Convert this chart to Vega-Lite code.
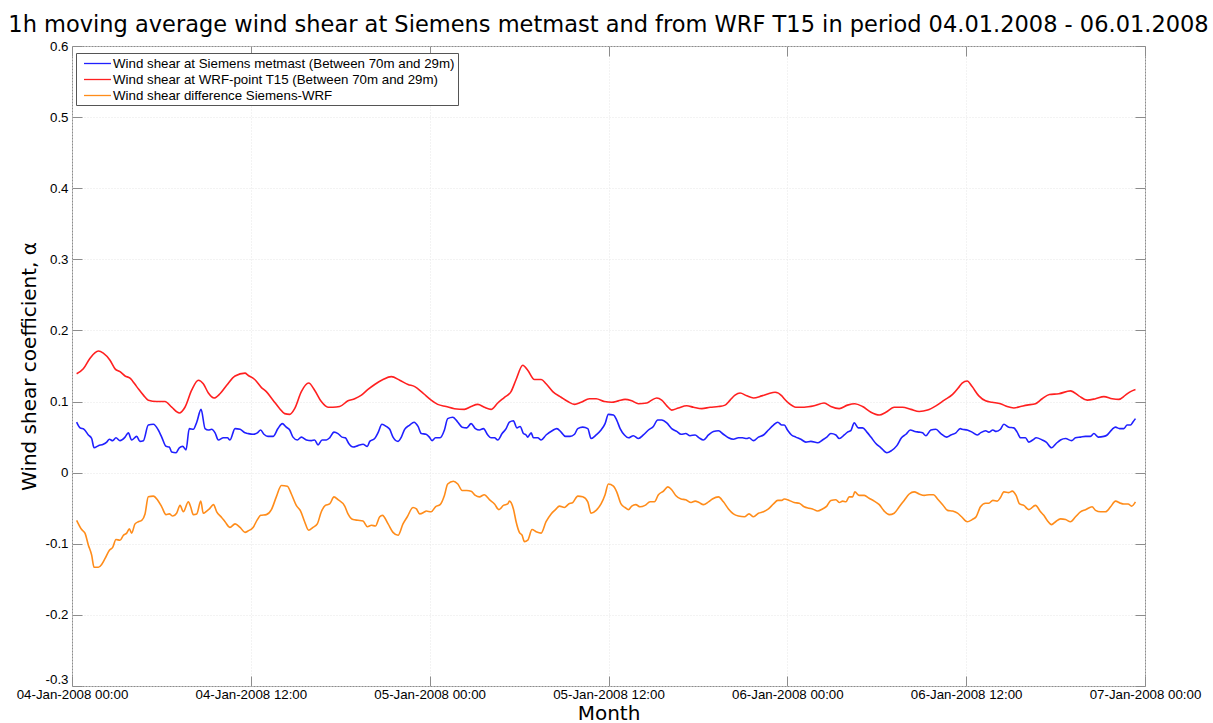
{
  "$schema": "https://vega.github.io/schema/vega-lite/v6.json",
  "width": 1073,
  "height": 640,
  "autosize": {"type": "none"},
  "padding": {"left": 72, "top": 46, "right": 68, "bottom": 37},
  "background": "white",
  "title": {
    "text": "1h moving average wind shear at Siemens metmast and from WRF T15 in period 04.01.2008 - 06.01.2008",
    "font": "DejaVu Sans",
    "fontSize": 22.5,
    "fontWeight": "normal",
    "color": "#000000",
    "anchor": "middle",
    "frame": "group",
    "baseline": "alphabetic",
    "offset": 13,
    "dy": 28
  },
  "config": {
    "view": {"stroke": "#8c8c8c", "strokeWidth": 1},
    "axis": {
      "domain": false,
      "grid": true,
      "gridColor": "#e6e6e6",
      "gridDash": [1, 2],
      "gridWidth": 1,
      "ticks": true,
      "tickSize": -10,
      "tickColor": "#8c8c8c",
      "tickWidth": 1,
      "labelFont": "Liberation Sans",
      "labelFontSize": 13.3,
      "labelColor": "#000000",
      "labelOverlap": false,
      "labelFlush": false,
      "titleFont": "DejaVu Sans",
      "titleFontSize": 20,
      "titleFontWeight": "normal",
      "titleColor": "#000000"
    }
  },
  "datasets": {
    "siemens": [
      {"hour":0.31,"alpha":0.071},{"hour":0.54,"alpha":0.063},{"hour":0.81,"alpha":0.061},{"hour":1.10,"alpha":0.053},{"hour":1.32,"alpha":0.048},{"hour":1.48,"alpha":0.035},{"hour":1.77,"alpha":0.038},{"hour":2.10,"alpha":0.040},{"hour":2.33,"alpha":0.043},{"hour":2.51,"alpha":0.047},{"hour":2.73,"alpha":0.045},{"hour":2.95,"alpha":0.049},{"hour":3.22,"alpha":0.045},{"hour":3.56,"alpha":0.050},{"hour":3.78,"alpha":0.056},{"hour":4.00,"alpha":0.046},{"hour":4.34,"alpha":0.051},{"hour":4.56,"alpha":0.044},{"hour":4.79,"alpha":0.045},{"hour":5.12,"alpha":0.067},{"hour":5.46,"alpha":0.068},{"hour":5.79,"alpha":0.060},{"hour":6.02,"alpha":0.050},{"hour":6.31,"alpha":0.037},{"hour":6.53,"alpha":0.036},{"hour":6.69,"alpha":0.029},{"hour":6.98,"alpha":0.028},{"hour":7.20,"alpha":0.035},{"hour":7.43,"alpha":0.037},{"hour":7.65,"alpha":0.032},{"hour":7.87,"alpha":0.062},{"hour":8.14,"alpha":0.061},{"hour":8.37,"alpha":0.071},{"hour":8.66,"alpha":0.089},{"hour":8.93,"alpha":0.062},{"hour":9.15,"alpha":0.060},{"hour":9.37,"alpha":0.061},{"hour":9.60,"alpha":0.056},{"hour":9.82,"alpha":0.046},{"hour":10.16,"alpha":0.049},{"hour":10.43,"alpha":0.049},{"hour":10.60,"alpha":0.046},{"hour":10.94,"alpha":0.062},{"hour":11.28,"alpha":0.061},{"hour":11.61,"alpha":0.056},
      {"hour":11.81,"alpha":0.055},{"hour":12.15,"alpha":0.054},{"hour":12.44,"alpha":0.056},{"hour":12.66,"alpha":0.060},{"hour":12.88,"alpha":0.054},{"hour":13.15,"alpha":0.051},{"hour":13.49,"alpha":0.051},{"hour":13.82,"alpha":0.062},{"hour":14.11,"alpha":0.069},{"hour":14.38,"alpha":0.064},{"hour":14.61,"alpha":0.060},{"hour":14.83,"alpha":0.050},{"hour":15.12,"alpha":0.046},{"hour":15.39,"alpha":0.050},{"hour":15.73,"alpha":0.046},{"hour":16.06,"alpha":0.045},{"hour":16.28,"alpha":0.046},{"hour":16.51,"alpha":0.039},{"hour":16.78,"alpha":0.046},{"hour":17.07,"alpha":0.046},{"hour":17.29,"alpha":0.049},{"hour":17.58,"alpha":0.057},{"hour":17.85,"alpha":0.055},{"hour":18.12,"alpha":0.050},{"hour":18.34,"alpha":0.049},{"hour":18.57,"alpha":0.041},{"hour":18.86,"alpha":0.036},{"hour":19.19,"alpha":0.038},{"hour":19.53,"alpha":0.040},{"hour":19.82,"alpha":0.037},{"hour":19.98,"alpha":0.044},{"hour":20.31,"alpha":0.048},{"hour":20.53,"alpha":0.056},{"hour":20.80,"alpha":0.068},{"hour":21.09,"alpha":0.065},{"hour":21.32,"alpha":0.061},{"hour":21.54,"alpha":0.050},{"hour":21.88,"alpha":0.044},{"hour":22.10,"alpha":0.050},{"hour":22.32,"alpha":0.061},{"hour":22.66,"alpha":0.067},{"hour":22.95,"alpha":0.071},{"hour":23.22,"alpha":0.065},{"hour":23.44,"alpha":0.055},
      {"hour":23.76,"alpha":0.054},{"hour":23.98,"alpha":0.050},{"hour":24.16,"alpha":0.045},{"hour":24.39,"alpha":0.049},{"hour":24.70,"alpha":0.049},{"hour":24.99,"alpha":0.060},{"hour":25.21,"alpha":0.076},{"hour":25.55,"alpha":0.078},{"hour":25.89,"alpha":0.071},{"hour":26.18,"alpha":0.064},{"hour":26.49,"alpha":0.063},{"hour":26.78,"alpha":0.069},{"hour":27.07,"alpha":0.062},{"hour":27.34,"alpha":0.060},{"hour":27.61,"alpha":0.062},{"hour":27.90,"alpha":0.053},{"hour":28.12,"alpha":0.049},{"hour":28.35,"alpha":0.049},{"hour":28.57,"alpha":0.046},{"hour":28.86,"alpha":0.055},{"hour":29.13,"alpha":0.062},{"hour":29.35,"alpha":0.071},{"hour":29.62,"alpha":0.073},{"hour":29.85,"alpha":0.063},{"hour":30.07,"alpha":0.065},{"hour":30.29,"alpha":0.055},{"hour":30.47,"alpha":0.053},{"hour":30.58,"alpha":0.050},{"hour":30.81,"alpha":0.056},{"hour":30.96,"alpha":0.049},{"hour":31.25,"alpha":0.049},{"hour":31.48,"alpha":0.046},{"hour":31.81,"alpha":0.053},{"hour":32.22,"alpha":0.059},{"hour":32.53,"alpha":0.062},{"hour":32.82,"alpha":0.057},{"hour":33.11,"alpha":0.051},{"hour":33.42,"alpha":0.051},{"hour":33.72,"alpha":0.054},{"hour":33.94,"alpha":0.062},{"hour":34.27,"alpha":0.064},{"hour":34.61,"alpha":0.062},{"hour":34.83,"alpha":0.048},{"hour":35.17,"alpha":0.053},{"hour":35.50,"alpha":0.060},
      {"hour":35.77,"alpha":0.069},{"hour":35.99,"alpha":0.082},{"hour":36.33,"alpha":0.081},{"hour":36.55,"alpha":0.074},{"hour":36.78,"alpha":0.062},{"hour":37.07,"alpha":0.053},{"hour":37.34,"alpha":0.049},{"hour":37.67,"alpha":0.052},{"hour":38.01,"alpha":0.048},{"hour":38.34,"alpha":0.053},{"hour":38.68,"alpha":0.060},{"hour":39.01,"alpha":0.065},{"hour":39.30,"alpha":0.074},{"hour":39.57,"alpha":0.074},{"hour":39.91,"alpha":0.070},{"hour":40.24,"alpha":0.062},{"hour":40.58,"alpha":0.058},{"hour":40.87,"alpha":0.054},{"hour":41.18,"alpha":0.055},{"hour":41.47,"alpha":0.052},{"hour":41.81,"alpha":0.053},{"hour":42.08,"alpha":0.049},{"hour":42.37,"alpha":0.046},{"hour":42.71,"alpha":0.053},{"hour":43.04,"alpha":0.058},{"hour":43.38,"alpha":0.059},{"hour":43.71,"alpha":0.054},{"hour":44.05,"alpha":0.049},{"hour":44.38,"alpha":0.047},{"hour":44.72,"alpha":0.049},{"hour":44.99,"alpha":0.049},{"hour":45.28,"alpha":0.048},{"hour":45.43,"alpha":0.049},{"hour":45.73,"alpha":0.045},{"hour":46.06,"alpha":0.050},{"hour":46.40,"alpha":0.053},{"hour":46.73,"alpha":0.060},{"hour":47.07,"alpha":0.067},{"hour":47.36,"alpha":0.071},{"hour":47.63,"alpha":0.067},
      {"hour":47.79,"alpha":0.067},{"hour":48.01,"alpha":0.060},{"hour":48.28,"alpha":0.053},{"hour":48.57,"alpha":0.050},{"hour":48.91,"alpha":0.047},{"hour":49.24,"alpha":0.043},{"hour":49.58,"alpha":0.044},{"hour":50.03,"alpha":0.042},{"hour":50.36,"alpha":0.046},{"hour":50.65,"alpha":0.050},{"hour":50.92,"alpha":0.055},{"hour":51.26,"alpha":0.053},{"hour":51.48,"alpha":0.048},{"hour":51.82,"alpha":0.053},{"hour":52.04,"alpha":0.057},{"hour":52.26,"alpha":0.059},{"hour":52.49,"alpha":0.070},{"hour":52.76,"alpha":0.063},{"hour":53.05,"alpha":0.063},{"hour":53.34,"alpha":0.057},{"hour":53.61,"alpha":0.050},{"hour":53.94,"alpha":0.041},{"hour":54.28,"alpha":0.035},{"hour":54.68,"alpha":0.028},{"hour":54.99,"alpha":0.031},{"hour":55.35,"alpha":0.038},{"hour":55.66,"alpha":0.049},{"hour":55.96,"alpha":0.054},{"hour":56.25,"alpha":0.060},{"hour":56.56,"alpha":0.058},{"hour":56.85,"alpha":0.057},{"hour":57.07,"alpha":0.056},{"hour":57.30,"alpha":0.052},{"hour":57.63,"alpha":0.060},{"hour":57.97,"alpha":0.061},{"hour":58.30,"alpha":0.055},{"hour":58.69,"alpha":0.050},{"hour":58.98,"alpha":0.053},{"hour":59.31,"alpha":0.056},{"hour":59.60,"alpha":0.062},
      {"hour":59.73,"alpha":0.061},{"hour":60.07,"alpha":0.060},{"hour":60.40,"alpha":0.057},{"hour":60.74,"alpha":0.053},{"hour":60.96,"alpha":0.056},{"hour":61.30,"alpha":0.059},{"hour":61.52,"alpha":0.057},{"hour":61.79,"alpha":0.060},{"hour":62.01,"alpha":0.058},{"hour":62.30,"alpha":0.061},{"hour":62.53,"alpha":0.068},{"hour":62.86,"alpha":0.064},{"hour":63.20,"alpha":0.063},{"hour":63.42,"alpha":0.057},{"hour":63.65,"alpha":0.049},{"hour":63.98,"alpha":0.049},{"hour":64.20,"alpha":0.043},{"hour":64.47,"alpha":0.046},{"hour":64.70,"alpha":0.049},{"hour":65.10,"alpha":0.046},{"hour":65.37,"alpha":0.043},{"hour":65.73,"alpha":0.035},{"hour":66.04,"alpha":0.041},{"hour":66.33,"alpha":0.046},{"hour":66.67,"alpha":0.048},{"hour":67.07,"alpha":0.045},{"hour":67.34,"alpha":0.049},{"hour":67.67,"alpha":0.050},{"hour":68.01,"alpha":0.051},{"hour":68.34,"alpha":0.051},{"hour":68.57,"alpha":0.055},{"hour":68.86,"alpha":0.050},{"hour":69.24,"alpha":0.051},{"hour":69.46,"alpha":0.053},{"hour":69.80,"alpha":0.061},{"hour":70.02,"alpha":0.064},{"hour":70.29,"alpha":0.062},{"hour":70.58,"alpha":0.062},{"hour":70.80,"alpha":0.067},{"hour":71.03,"alpha":0.067},{"hour":71.18,"alpha":0.071},{"hour":71.36,"alpha":0.076}
    ],
    "wrf": [
      {"hour":0.31,"alpha":0.139},{"hour":0.76,"alpha":0.146},{"hour":1.21,"alpha":0.161},{"hour":1.77,"alpha":0.171},{"hour":2.10,"alpha":0.168},{"hour":2.55,"alpha":0.158},{"hour":2.89,"alpha":0.146},{"hour":3.22,"alpha":0.142},{"hour":3.56,"alpha":0.136},{"hour":3.89,"alpha":0.133},{"hour":4.34,"alpha":0.121},{"hour":4.79,"alpha":0.109},{"hour":5.12,"alpha":0.102},{"hour":5.68,"alpha":0.100},{"hour":6.24,"alpha":0.100},{"hour":6.69,"alpha":0.092},{"hour":7.20,"alpha":0.084},{"hour":7.58,"alpha":0.092},{"hour":8.03,"alpha":0.116},{"hour":8.48,"alpha":0.130},{"hour":8.81,"alpha":0.125},{"hour":9.15,"alpha":0.112},{"hour":9.53,"alpha":0.105},{"hour":9.93,"alpha":0.111},{"hour":10.38,"alpha":0.123},{"hour":10.94,"alpha":0.136},{"hour":11.61,"alpha":0.140},
      {"hour":11.81,"alpha":0.137},{"hour":12.26,"alpha":0.131},{"hour":12.70,"alpha":0.120},{"hour":13.04,"alpha":0.114},{"hour":13.49,"alpha":0.102},{"hour":13.94,"alpha":0.090},{"hour":14.27,"alpha":0.083},{"hour":14.61,"alpha":0.082},{"hour":14.94,"alpha":0.090},{"hour":15.39,"alpha":0.114},{"hour":15.88,"alpha":0.126},{"hour":16.28,"alpha":0.116},{"hour":16.73,"alpha":0.100},{"hour":17.18,"alpha":0.092},{"hour":17.51,"alpha":0.092},{"hour":17.96,"alpha":0.093},{"hour":18.52,"alpha":0.101},{"hour":18.97,"alpha":0.104},{"hour":19.42,"alpha":0.109},{"hour":19.86,"alpha":0.117},{"hour":20.31,"alpha":0.124},{"hour":20.87,"alpha":0.131},{"hour":21.43,"alpha":0.135},{"hour":21.99,"alpha":0.130},{"hour":22.55,"alpha":0.124},{"hour":23.00,"alpha":0.121},{"hour":23.44,"alpha":0.114},
      {"hour":23.76,"alpha":0.108},{"hour":24.10,"alpha":0.102},{"hour":24.54,"alpha":0.096},{"hour":25.10,"alpha":0.093},{"hour":25.66,"alpha":0.090},{"hour":26.33,"alpha":0.089},{"hour":26.78,"alpha":0.093},{"hour":27.23,"alpha":0.096},{"hour":27.67,"alpha":0.092},{"hour":28.12,"alpha":0.089},{"hour":28.57,"alpha":0.098},{"hour":29.02,"alpha":0.106},{"hour":29.46,"alpha":0.114},{"hour":29.80,"alpha":0.131},{"hour":30.25,"alpha":0.151},{"hour":30.58,"alpha":0.144},{"hour":31.03,"alpha":0.131},{"hour":31.48,"alpha":0.131},{"hour":31.81,"alpha":0.125},{"hour":32.26,"alpha":0.114},{"hour":32.82,"alpha":0.106},{"hour":33.27,"alpha":0.100},{"hour":33.72,"alpha":0.096},{"hour":34.16,"alpha":0.099},{"hour":34.72,"alpha":0.104},{"hour":35.17,"alpha":0.104},{"hour":35.73,"alpha":0.100},
      {"hour":36.22,"alpha":0.099},{"hour":36.66,"alpha":0.101},{"hour":37.11,"alpha":0.103},{"hour":37.56,"alpha":0.101},{"hour":38.01,"alpha":0.097},{"hour":38.57,"alpha":0.098},{"hour":38.90,"alpha":0.102},{"hour":39.24,"alpha":0.105},{"hour":39.57,"alpha":0.102},{"hour":39.91,"alpha":0.094},{"hour":40.24,"alpha":0.088},{"hour":40.69,"alpha":0.091},{"hour":41.25,"alpha":0.094},{"hour":41.70,"alpha":0.092},{"hour":42.26,"alpha":0.090},{"hour":42.82,"alpha":0.092},{"hour":43.38,"alpha":0.093},{"hour":43.82,"alpha":0.095},{"hour":44.16,"alpha":0.102},{"hour":44.49,"alpha":0.109},{"hour":44.83,"alpha":0.112},{"hour":45.28,"alpha":0.108},{"hour":45.73,"alpha":0.105},{"hour":46.28,"alpha":0.108},{"hour":46.73,"alpha":0.111},{"hour":47.18,"alpha":0.113},{"hour":47.63,"alpha":0.108},
      {"hour":47.79,"alpha":0.104},{"hour":48.13,"alpha":0.097},{"hour":48.57,"alpha":0.092},{"hour":49.13,"alpha":0.092},{"hour":49.80,"alpha":0.094},{"hour":50.47,"alpha":0.098},{"hour":50.92,"alpha":0.093},{"hour":51.48,"alpha":0.090},{"hour":52.04,"alpha":0.095},{"hour":52.53,"alpha":0.097},{"hour":53.05,"alpha":0.093},{"hour":53.61,"alpha":0.085},{"hour":54.17,"alpha":0.081},{"hour":54.61,"alpha":0.085},{"hour":55.17,"alpha":0.092},{"hour":55.73,"alpha":0.092},{"hour":56.29,"alpha":0.089},{"hour":56.85,"alpha":0.086},{"hour":57.41,"alpha":0.088},{"hour":57.97,"alpha":0.094},{"hour":58.53,"alpha":0.102},{"hour":59.09,"alpha":0.110},{"hour":59.54,"alpha":0.121},
      {"hour":59.73,"alpha":0.126},{"hour":60.07,"alpha":0.129},{"hour":60.40,"alpha":0.121},{"hour":60.85,"alpha":0.108},{"hour":61.30,"alpha":0.101},{"hour":61.74,"alpha":0.099},{"hour":62.30,"alpha":0.097},{"hour":62.75,"alpha":0.093},{"hour":63.20,"alpha":0.091},{"hour":63.65,"alpha":0.093},{"hour":64.09,"alpha":0.095},{"hour":64.65,"alpha":0.097},{"hour":65.10,"alpha":0.104},{"hour":65.59,"alpha":0.110},{"hour":66.22,"alpha":0.111},{"hour":67.00,"alpha":0.115},{"hour":67.56,"alpha":0.108},{"hour":68.12,"alpha":0.102},{"hour":68.68,"alpha":0.104},{"hour":69.24,"alpha":0.107},{"hour":69.80,"alpha":0.104},{"hour":70.24,"alpha":0.103},{"hour":70.69,"alpha":0.109},{"hour":71.03,"alpha":0.114},{"hour":71.36,"alpha":0.117}
    ],
    "difference": [
      {"hour":0.31,"alpha":-0.067},{"hour":0.65,"alpha":-0.080},{"hour":0.87,"alpha":-0.085},{"hour":1.10,"alpha":-0.102},{"hour":1.32,"alpha":-0.116},{"hour":1.48,"alpha":-0.133},{"hour":1.77,"alpha":-0.133},{"hour":1.99,"alpha":-0.129},{"hour":2.21,"alpha":-0.121},{"hour":2.51,"alpha":-0.109},{"hour":2.73,"alpha":-0.105},{"hour":2.95,"alpha":-0.094},{"hour":3.22,"alpha":-0.095},{"hour":3.45,"alpha":-0.088},{"hour":3.67,"alpha":-0.085},{"hour":3.85,"alpha":-0.079},{"hour":4.00,"alpha":-0.085},{"hour":4.23,"alpha":-0.072},{"hour":4.45,"alpha":-0.069},{"hour":4.68,"alpha":-0.067},{"hour":4.90,"alpha":-0.058},{"hour":5.12,"alpha":-0.034},{"hour":5.46,"alpha":-0.033},{"hour":5.73,"alpha":-0.038},{"hour":6.02,"alpha":-0.048},{"hour":6.31,"alpha":-0.059},{"hour":6.53,"alpha":-0.058},{"hour":6.76,"alpha":-0.061},{"hour":7.02,"alpha":-0.057},{"hour":7.25,"alpha":-0.046},{"hour":7.47,"alpha":-0.055},{"hour":7.81,"alpha":-0.041},{"hour":7.96,"alpha":-0.048},{"hour":8.14,"alpha":-0.059},{"hour":8.37,"alpha":-0.058},{"hour":8.64,"alpha":-0.040},{"hour":8.81,"alpha":-0.057},{"hour":9.04,"alpha":-0.054},{"hour":9.22,"alpha":-0.051},{"hour":9.49,"alpha":-0.045},{"hour":9.71,"alpha":-0.055},{"hour":10.04,"alpha":-0.063},{"hour":10.27,"alpha":-0.069},{"hour":10.60,"alpha":-0.077},{"hour":10.94,"alpha":-0.072},{"hour":11.28,"alpha":-0.077},{"hour":11.61,"alpha":-0.084},
      {"hour":11.81,"alpha":-0.082},{"hour":12.15,"alpha":-0.077},{"hour":12.44,"alpha":-0.066},{"hour":12.66,"alpha":-0.060},{"hour":13.04,"alpha":-0.059},{"hour":13.38,"alpha":-0.052},{"hour":13.71,"alpha":-0.034},{"hour":14.05,"alpha":-0.018},{"hour":14.45,"alpha":-0.019},{"hour":14.72,"alpha":-0.030},{"hour":15.05,"alpha":-0.046},{"hour":15.34,"alpha":-0.054},{"hour":15.61,"alpha":-0.069},{"hour":15.88,"alpha":-0.081},{"hour":16.17,"alpha":-0.077},{"hour":16.46,"alpha":-0.072},{"hour":16.73,"alpha":-0.055},{"hour":17.00,"alpha":-0.046},{"hour":17.29,"alpha":-0.044},{"hour":17.58,"alpha":-0.034},{"hour":17.85,"alpha":-0.038},{"hour":18.30,"alpha":-0.047},{"hour":18.52,"alpha":-0.058},{"hour":18.86,"alpha":-0.066},{"hour":19.19,"alpha":-0.067},{"hour":19.53,"alpha":-0.068},{"hour":19.82,"alpha":-0.076},{"hour":20.09,"alpha":-0.074},{"hour":20.36,"alpha":-0.075},{"hour":20.65,"alpha":-0.062},{"hour":20.83,"alpha":-0.060},{"hour":21.21,"alpha":-0.072},{"hour":21.54,"alpha":-0.084},{"hour":21.88,"alpha":-0.088},{"hour":22.21,"alpha":-0.072},{"hour":22.50,"alpha":-0.062},{"hour":22.88,"alpha":-0.049},{"hour":23.11,"alpha":-0.051},{"hour":23.33,"alpha":-0.058},{"hour":23.67,"alpha":-0.055},
      {"hour":23.76,"alpha":-0.054},{"hour":24.10,"alpha":-0.055},{"hour":24.39,"alpha":-0.048},{"hour":24.70,"alpha":-0.045},{"hour":24.99,"alpha":-0.032},{"hour":25.21,"alpha":-0.016},{"hour":25.59,"alpha":-0.012},{"hour":25.89,"alpha":-0.016},{"hour":26.18,"alpha":-0.025},{"hour":26.49,"alpha":-0.025},{"hour":26.78,"alpha":-0.026},{"hour":27.07,"alpha":-0.032},{"hour":27.34,"alpha":-0.034},{"hour":27.67,"alpha":-0.031},{"hour":28.01,"alpha":-0.038},{"hour":28.35,"alpha":-0.044},{"hour":28.64,"alpha":-0.052},{"hour":28.95,"alpha":-0.046},{"hour":29.24,"alpha":-0.044},{"hour":29.35,"alpha":-0.040},{"hour":29.62,"alpha":-0.051},{"hour":29.80,"alpha":-0.069},{"hour":30.02,"alpha":-0.084},{"hour":30.20,"alpha":-0.088},{"hour":30.36,"alpha":-0.097},{"hour":30.58,"alpha":-0.095},{"hour":30.87,"alpha":-0.080},{"hour":31.14,"alpha":-0.083},{"hour":31.48,"alpha":-0.085},{"hour":31.81,"alpha":-0.069},{"hour":32.15,"alpha":-0.058},{"hour":32.44,"alpha":-0.052},{"hour":32.71,"alpha":-0.047},{"hour":33.04,"alpha":-0.049},{"hour":33.33,"alpha":-0.044},{"hour":33.60,"alpha":-0.042},{"hour":33.94,"alpha":-0.033},{"hour":34.27,"alpha":-0.034},{"hour":34.61,"alpha":-0.041},{"hour":34.83,"alpha":-0.057},{"hour":35.17,"alpha":-0.053},{"hour":35.50,"alpha":-0.044},
      {"hour":35.77,"alpha":-0.031},{"hour":35.99,"alpha":-0.016},{"hour":36.33,"alpha":-0.019},{"hour":36.55,"alpha":-0.027},{"hour":36.84,"alpha":-0.044},{"hour":37.11,"alpha":-0.049},{"hour":37.34,"alpha":-0.052},{"hour":37.56,"alpha":-0.047},{"hour":37.83,"alpha":-0.045},{"hour":38.12,"alpha":-0.048},{"hour":38.45,"alpha":-0.046},{"hour":38.79,"alpha":-0.041},{"hour":39.08,"alpha":-0.041},{"hour":39.35,"alpha":-0.031},{"hour":39.69,"alpha":-0.026},{"hour":39.98,"alpha":-0.020},{"hour":40.24,"alpha":-0.024},{"hour":40.51,"alpha":-0.032},{"hour":40.87,"alpha":-0.037},{"hour":41.18,"alpha":-0.038},{"hour":41.54,"alpha":-0.042},{"hour":41.81,"alpha":-0.040},{"hour":42.08,"alpha":-0.042},{"hour":42.37,"alpha":-0.045},{"hour":42.71,"alpha":-0.041},{"hour":42.97,"alpha":-0.037},{"hour":43.38,"alpha":-0.034},{"hour":43.71,"alpha":-0.041},{"hour":44.05,"alpha":-0.051},{"hour":44.38,"alpha":-0.058},{"hour":44.72,"alpha":-0.061},{"hour":45.12,"alpha":-0.062},{"hour":45.43,"alpha":-0.058},{"hour":45.73,"alpha":-0.062},{"hour":46.06,"alpha":-0.057},{"hour":46.40,"alpha":-0.055},{"hour":46.73,"alpha":-0.051},{"hour":47.07,"alpha":-0.044},{"hour":47.36,"alpha":-0.039},{"hour":47.63,"alpha":-0.039},
      {"hour":47.79,"alpha":-0.037},{"hour":48.13,"alpha":-0.039},{"hour":48.46,"alpha":-0.042},{"hour":48.80,"alpha":-0.043},{"hour":49.13,"alpha":-0.048},{"hour":49.47,"alpha":-0.050},{"hour":49.69,"alpha":-0.051},{"hour":50.03,"alpha":-0.054},{"hour":50.36,"alpha":-0.051},{"hour":50.65,"alpha":-0.047},{"hour":50.92,"alpha":-0.039},{"hour":51.26,"alpha":-0.038},{"hour":51.48,"alpha":-0.042},{"hour":51.71,"alpha":-0.040},{"hour":51.93,"alpha":-0.041},{"hour":52.15,"alpha":-0.034},{"hour":52.38,"alpha":-0.034},{"hour":52.53,"alpha":-0.027},{"hour":52.82,"alpha":-0.032},{"hour":53.16,"alpha":-0.032},{"hour":53.49,"alpha":-0.036},{"hour":53.83,"alpha":-0.040},{"hour":54.17,"alpha":-0.045},{"hour":54.50,"alpha":-0.054},{"hour":54.84,"alpha":-0.059},{"hour":55.17,"alpha":-0.057},{"hour":55.51,"alpha":-0.048},{"hour":55.84,"alpha":-0.039},{"hour":56.18,"alpha":-0.030},{"hour":56.51,"alpha":-0.027},{"hour":56.85,"alpha":-0.030},{"hour":57.19,"alpha":-0.032},{"hour":57.52,"alpha":-0.031},{"hour":57.81,"alpha":-0.031},{"hour":58.08,"alpha":-0.037},{"hour":58.42,"alpha":-0.045},{"hour":58.75,"alpha":-0.053},{"hour":59.09,"alpha":-0.054},{"hour":59.42,"alpha":-0.057},{"hour":59.69,"alpha":-0.062},
      {"hour":60.07,"alpha":-0.069},{"hour":60.40,"alpha":-0.066},{"hour":60.67,"alpha":-0.062},{"hour":60.96,"alpha":-0.048},{"hour":61.30,"alpha":-0.043},{"hour":61.52,"alpha":-0.043},{"hour":61.79,"alpha":-0.039},{"hour":62.08,"alpha":-0.040},{"hour":62.30,"alpha":-0.035},{"hour":62.53,"alpha":-0.027},{"hour":62.86,"alpha":-0.028},{"hour":63.09,"alpha":-0.026},{"hour":63.35,"alpha":-0.032},{"hour":63.58,"alpha":-0.044},{"hour":63.87,"alpha":-0.046},{"hour":64.20,"alpha":-0.052},{"hour":64.65,"alpha":-0.046},{"hour":64.99,"alpha":-0.055},{"hour":65.21,"alpha":-0.060},{"hour":65.43,"alpha":-0.067},{"hour":65.73,"alpha":-0.073},{"hour":66.00,"alpha":-0.069},{"hour":66.33,"alpha":-0.065},{"hour":66.67,"alpha":-0.066},{"hour":67.00,"alpha":-0.069},{"hour":67.34,"alpha":-0.062},{"hour":67.67,"alpha":-0.055},{"hour":68.01,"alpha":-0.052},{"hour":68.45,"alpha":-0.048},{"hour":68.68,"alpha":-0.053},{"hour":69.02,"alpha":-0.055},{"hour":69.35,"alpha":-0.055},{"hour":69.69,"alpha":-0.048},{"hour":70.02,"alpha":-0.040},{"hour":70.36,"alpha":-0.043},{"hour":70.58,"alpha":-0.044},{"hour":70.87,"alpha":-0.044},{"hour":71.10,"alpha":-0.047},{"hour":71.36,"alpha":-0.041}
    ]
  },
  "layer": [
    {
      "encoding": {
        "x": {
          "field": "hour",
          "type": "quantitative",
          "scale": {"domain": [0, 72], "nice": false, "zero": false},
          "axis": {
            "orient": "bottom",
            "values": [0, 12, 24, 36, 48, 60, 72],
            "labelExpr": "timeFormat(datetime(2008, 0, 4, datum.value), '%d-%b-%Y %H:%M')",
            "labelPadding": 11,
            "labelBaseline": "top",
            "title": "Month",
            "titleY": 33,
            "titleBaseline": "alphabetic"
          }
        },
        "y": {
          "field": "alpha",
          "type": "quantitative",
          "scale": {"domain": [-0.3, 0.6], "nice": false, "zero": false},
          "axis": {
            "orient": "left",
            "values": [-0.3, -0.2, -0.1, 0, 0.1, 0.2, 0.3, 0.4, 0.5, 0.6],
            "labelExpr": "datum.value == 0 ? '0' : (datum.value < 0 ? '-' : '') + format(abs(datum.value), '.1f')",
            "labelPadding": 14,
            "labelBaseline": {"condition": {"test": "datum.value < -0.29", "value": "bottom"}, "value": "middle"},
            "title": "Wind shear coefficient, α",
            "titleX": -37,
            "titleY": 320,
            "titleAngle": 270,
            "titleAlign": "center",
            "titleBaseline": "alphabetic"
          }
        }
      },
      "layer": [
        {
          "data": {"name": "siemens"},
          "mark": {"type": "line", "strokeWidth": 1.6, "interpolate": "monotone"},
          "encoding": {
            "color": {
              "datum": "Wind shear at Siemens metmast (Between 70m and 29m)",
              "type": "nominal",
              "scale": {
                "domain": ["Wind shear at Siemens metmast (Between 70m and 29m)", "Wind shear at WRF-point T15 (Between 70m and 29m)", "Wind shear difference Siemens-WRF"],
                "range": ["#2020ff", "#ff2020", "#ff8c1a"]
              },
              "legend": {
                "title": null,
                "orient": "none",
                "legendX": 4,
                "legendY": 7,
                "direction": "vertical",
                "fillColor": "white",
                "strokeColor": "#555555",
                "padding": 3,
                "symbolType": "M-2,0H2",
                "symbolSize": 182,
                "symbolStrokeWidth": 1.3,
                "symbolOffset": 11,
                "labelOffset": 8,
                "labelFont": "Liberation Sans",
                "labelFontSize": 13.3,
                "labelColor": "#000000",
                "labelLimit": 500,
                "rowPadding": 2
              }
            }
          }
        },
        {
          "data": {"name": "wrf"},
          "mark": {"type": "line", "strokeWidth": 1.6, "interpolate": "monotone"},
          "encoding": {
            "color": {"datum": "Wind shear at WRF-point T15 (Between 70m and 29m)", "type": "nominal"}
          }
        },
        {
          "data": {"name": "difference"},
          "mark": {"type": "line", "strokeWidth": 1.6, "interpolate": "monotone"},
          "encoding": {
            "color": {"datum": "Wind shear difference Siemens-WRF", "type": "nominal"}
          }
        }
      ]
    },
    {
      "data": {"name": "siemens"},
      "mark": {"type": "point", "opacity": 0},
      "encoding": {
        "x": {
          "field": "hour",
          "type": "quantitative",
          "scale": {"domain": [0, 72], "nice": false, "zero": false},
          "axis": {"orient": "top", "values": [0, 12, 24, 36, 48, 60, 72], "labels": false, "grid": false, "title": null}
        },
        "y": {
          "field": "alpha",
          "type": "quantitative",
          "scale": {"domain": [-0.3, 0.6], "nice": false, "zero": false},
          "axis": {"orient": "right", "values": [-0.3, -0.2, -0.1, 0, 0.1, 0.2, 0.3, 0.4, 0.5, 0.6], "labels": false, "grid": false, "title": null}
        }
      }
    }
  ],
  "resolve": {"axis": {"x": "independent", "y": "independent"}}
}
